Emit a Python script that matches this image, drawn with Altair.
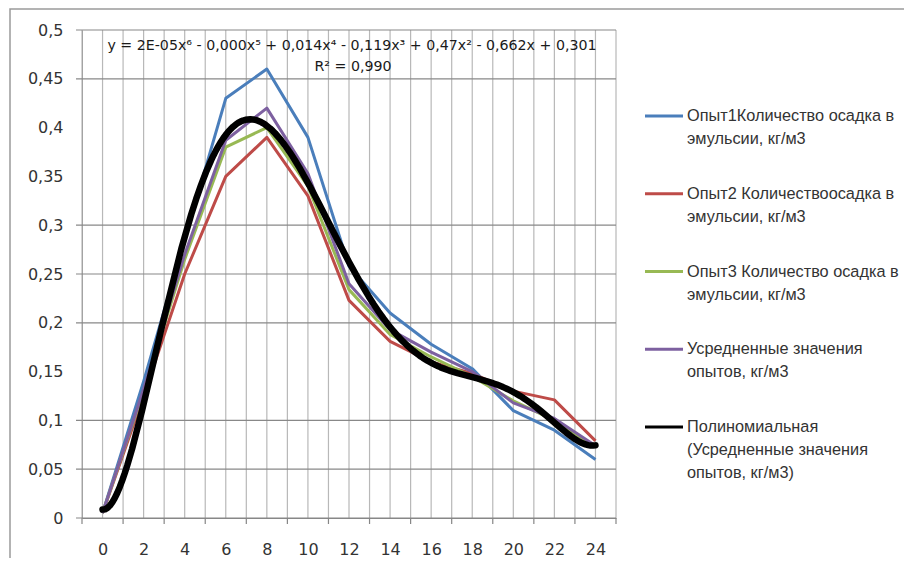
import altair as alt
import pandas as pd

# ---------------- data ----------------
x_values = [0, 2, 4, 6, 8, 10, 12, 14, 16, 18, 20, 22, 24]
opyt1 = [0.005, 0.14, 0.285, 0.43, 0.46, 0.39, 0.258, 0.21, 0.178, 0.153, 0.11, 0.09, 0.06]
opyt2 = [0.005, 0.125, 0.25, 0.35, 0.39, 0.33, 0.223, 0.181, 0.16, 0.148, 0.13, 0.121, 0.079]
opyt3 = [0.005, 0.13, 0.265, 0.38, 0.40, 0.34, 0.234, 0.188, 0.165, 0.145, 0.12, 0.10, 0.073]
average = [0.005, 0.132, 0.27, 0.387, 0.42, 0.353, 0.24, 0.193, 0.17, 0.15, 0.118, 0.102, 0.074]

series_names = ["Опыт1", "Опыт2", "Опыт3", "Среднее"]
series_colors = ["#4A7EBB", "#BE4B48", "#98B954", "#7D60A0"]

x_labels = [0, 2, 4, 6, 8, 10, 12, 14, 16, 18, 20, 22, 24]
x_grid = list(range(-1, 26))
x_ticks = [-1, 1, 3, 5, 7, 9, 11, 13, 15, 17, 19, 21, 23, 25]
y_labels = [0, 0.05, 0.1, 0.15, 0.2, 0.25, 0.3, 0.35, 0.4, 0.45, 0.5]
y_grid = [0, 0.05, 0.1, 0.2, 0.25, 0.3, 0.45, 0.5]

equation = "y = 2E-05x⁶ - 0,000x⁵ + 0,014x⁴ - 0,119x³ + 0,47x² - 0,662x + 0,301"
r_squared = "R² = 0,990"

legend_entries = [
    ["Опыт1Количество осадка в", "эмульсии, кг/м3"],
    ["Опыт2 Количествоосадка в", "эмульсии, кг/м3"],
    ["Опыт3 Количество осадка в", "эмульсии, кг/м3"],
    ["Усредненные значения", "опытов, кг/м3"],
    ["Полиномиальная", "(Усредненные значения", "опытов, кг/м3)"],
]
legend_colors = series_colors + ["#000000"]

# ---------------- tables ----------------
rows = []
for name, vals in zip(series_names, [opyt1, opyt2, opyt3, average]):
    for xv, yv in zip(x_values, vals):
        rows.append({"series": name, "x": xv, "y": yv})
df = pd.DataFrame(rows)
one = pd.DataFrame({"a": [0]})

W, H = 534, 488
FONT = "DejaVu Sans"
LFONT = "Liberation Sans"
xs = alt.Scale(domain=[-1, 25], nice=False, zero=False)
ys = alt.Scale(domain=[0, 0.5], nice=False, zero=False)

x_axis = alt.Axis(
    values=x_labels, grid=False, ticks=False, domain=True, domainColor="#868686",
    labelFont=FONT, labelFontSize=16, labelColor="#333333", labelPadding=23,
    labelOverlap=False, labelFlush=False, title=None,
)
y_axis = alt.Axis(
    values=y_labels, grid=False, ticks=False, domain=True, domainColor="#868686",
    labelFont=FONT, labelFontSize=16, labelColor="#333333", labelPadding=19,
    labelExpr="replace(toString(datum.value), '.', ',')", labelOverlap=False,
    labelFlush=False, title=None,
)

vgrid = alt.Chart(pd.DataFrame({"x": x_grid})).mark_rule(color="#b8b8b8", strokeWidth=1.2).encode(
    x=alt.X("x:Q", scale=xs, axis=x_axis, title=None),
    y=alt.value(0), y2=alt.value(H),
)
hgrid = alt.Chart(pd.DataFrame({"y": y_grid})).mark_rule(color="#888888", strokeWidth=1.2).encode(
    y=alt.Y("y:Q", scale=ys, axis=y_axis, title=None),
    x=alt.value(-6), x2=alt.value(W),
)
xtick = alt.Chart(pd.DataFrame({"x": x_ticks})).mark_rule(color="#868686", strokeWidth=1.2).encode(
    x=alt.X("x:Q", scale=xs, title=None),
    y=alt.value(H), y2=alt.value(H + 6),
)
frame = alt.Chart(one).mark_rect(fillOpacity=0, stroke="#9a9a9a", strokeWidth=1.5).encode(
    x=alt.value(-72), x2=alt.value(W + 400), y=alt.value(-21), y2=alt.value(H + 200),
)

lines = alt.Chart(df).mark_line(strokeWidth=3, strokeJoin="round").encode(
    x=alt.X("x:Q", scale=xs, title=None),
    y=alt.Y("y:Q", scale=ys, title=None),
    color=alt.Color("series:N", scale=alt.Scale(domain=series_names, range=series_colors), legend=None),
)

trend = (
    alt.Chart(df)
    .transform_filter(alt.datum.series == "Среднее")
    .transform_regression("x", "y", method="poly", order=6)
    .mark_line(color="#000000", strokeWidth=6.5, strokeCap="round", strokeJoin="round")
    .encode(x=alt.X("x:Q", scale=xs, title=None), y=alt.Y("y:Q", scale=ys, title=None))
)

eq = alt.Chart(one).mark_text(
    text=equation, font=FONT, fontSize=14.2, color="#1a1a1a", align="center", baseline="middle"
).encode(x=alt.value(270), y=alt.value(16))
r2 = alt.Chart(one).mark_text(
    text=r_squared, font=FONT, fontSize=14.2, color="#1a1a1a", align="center", baseline="middle"
).encode(x=alt.value(271), y=alt.value(37))

layers = [vgrid, hgrid, xtick, frame, lines, trend, eq, r2]

leg_x0, leg_x1, leg_tx = 563, 601, 605
for i, (entry, col) in enumerate(zip(legend_entries, legend_colors)):
    sy = 86 + i * 77.75
    layers.append(
        alt.Chart(one).mark_rule(color=col, strokeWidth=3).encode(
            x=alt.value(leg_x0), x2=alt.value(leg_x1), y=alt.value(sy)
        )
    )
    for j, line in enumerate(entry):
        layers.append(
            alt.Chart(one).mark_text(
                text=line, font=LFONT, fontSize=16.3, color="#333333", align="left", baseline="middle"
            ).encode(x=alt.value(leg_tx), y=alt.value(sy + j * 23))
        )

chart = (
    alt.layer(*layers)
    .properties(
        width=W, height=H,
        autosize=alt.AutoSizeParams(type="none"),
        padding={"left": 74, "top": 22, "right": 288, "bottom": 40},
        background="white",
    )
    .configure_view(stroke=None)
)

chart.save("out.html", embed_options={"renderer": "svg", "actions": False})
